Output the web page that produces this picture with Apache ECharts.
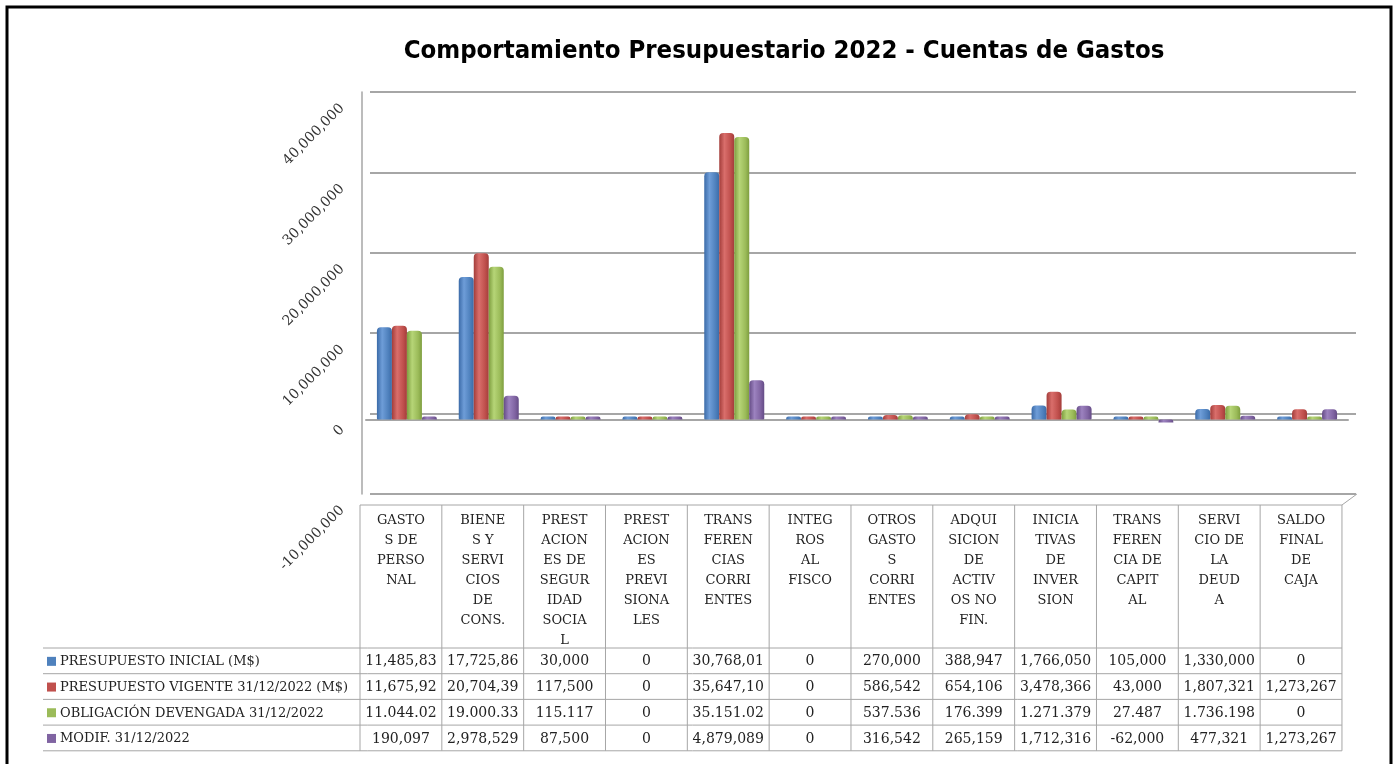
<!DOCTYPE html>
<html>
<head>
<meta charset="utf-8">
<title>Comportamiento Presupuestario 2022</title>
<script src="https://cdn.jsdelivr.net/npm/echarts@6/dist/echarts.min.js"></script>
<style>html,body{margin:0;padding:0;background:#fff}#main{width:1400px;height:764px}</style>
</head>
<body>
<div id="main"></div>
<script>
// categorias tal como aparecen (con los cortes de linea de la tabla)
var categorias = [
  'GASTO\nS DE\nPERSO\nNAL',
  'BIENE\nS Y\nSERVI\nCIOS\nDE\nCONS.',
  'PREST\nACION\nES DE\nSEGUR\nIDAD\nSOCIA\nL',
  'PREST\nACION\nES\nPREVI\nSIONA\nLES',
  'TRANS\nFEREN\nCIAS\nCORRI\nENTES',
  'INTEG\nROS\nAL\nFISCO',
  'OTROS\nGASTO\nS\nCORRI\nENTES',
  'ADQUI\nSICION\nDE\nACTIV\nOS NO\nFIN.',
  'INICIA\nTIVAS\nDE\nINVER\nSION',
  'TRANS\nFEREN\nCIA DE\nCAPIT\nAL',
  'SERVI\nCIO DE\nLA\nDEUD\nA',
  'SALDO\nFINAL\nDE\nCAJA'
];
var seriesNames = [
  'PRESUPUESTO INICIAL (M$)',
  'PRESUPUESTO VIGENTE 31/12/2022 (M$)',
  'OBLIGACIÓN DEVENGADA 31/12/2022',
  'MODIF. 31/12/2022'
];
var inicial  = [11485830, 17725860, 30000, 0, 30768010, 0, 270000, 388947, 1766050, 105000, 1330000, 0];
var vigente  = [11675920, 20704390, 117500, 0, 35647100, 0, 586542, 654106, 3478366, 43000, 1807321, 1273267];
var devengad = [11044020, 19000330, 115117, 0, 35151020, 0, 537536, 176399, 1271379, 27487, 1736198, 0];
var modif    = [190097, 2978529, 87500, 0, 4879089, 0, 316542, 265159, 1712316, -62000, 477321, 1273267];

// textos de la tabla de datos, tal como se muestran
var inicialTxt  = ['11,485,83','17,725,86','30,000','0','30,768,01','0','270,000','388,947','1,766,050','105,000','1,330,000','0'];
var vigenteTxt  = ['11,675,92','20,704,39','117,500','0','35,647,10','0','586,542','654,106','3,478,366','43,000','1,807,321','1,273,267'];
var devengTxt   = ['11.044.02','19.000.33','115.117','0','35.151.02','0','537.536','176.399','1.271.379','27.487','1.736.198','0'];
var modifTxt    = ['190,097','2,978,529','87,500','0','4,879,089','0','316,542','265,159','1,712,316','-62,000','477,321','1,273,267'];

var yMin = -10000000, yMax = 40000000, yStep = 10000000;

var colores = [
  ['#3B6BA8', '#6E9DD8', '#4F81BD'],
  ['#A33D3A', '#D96E6B', '#C0504D'],
  ['#7E9E3F', '#B6D577', '#9BBB59'],
  ['#654C86', '#9C82BF', '#8064A2']
];
var valores = [inicial, vigente, devengad, modif];
var textos = [inicialTxt, vigenteTxt, devengTxt, modifTxt];

function cilindro(c) {
  return new echarts.graphic.LinearGradient(0, 0, 1, 0, [
    {offset: 0, color: c[0]},
    {offset: 0.35, color: c[1]},
    {offset: 0.75, color: c[2]},
    {offset: 1, color: c[0]}
  ]);
}

// tabla de datos bajo el grafico
var serif = '"DejaVu Serif", "Liberation Serif", serif';
var tabX = 360, colW = 81.83, tabTop = 505, headBot = 648, rowH = 25.7, legX = 43;
var tabRight = tabX + colW * categorias.length;
var lineaGris = {stroke: '#A6A6A6', lineWidth: 1};
var graficos = [];
graficos.push({type: 'rect', shape: {x: 7, y: 7, width: 1384, height: 780}, style: {fill: null, stroke: '#000', lineWidth: 3}, silent: true});
graficos.push({type: 'line', shape: {x1: tabX, y1: tabTop, x2: tabRight, y2: tabTop}, style: lineaGris});
graficos.push({type: 'line', shape: {x1: tabRight, y1: tabTop, x2: tabRight + 15, y2: tabTop - 11}, style: lineaGris});
for (var c = 0; c <= categorias.length; c++) {
  var x = tabX + c * colW;
  graficos.push({type: 'line', shape: {x1: x, y1: tabTop, x2: x, y2: headBot + rowH * 4}, style: lineaGris});
}
for (var r = 0; r <= 4; r++) {
  var y = headBot + r * rowH;
  graficos.push({type: 'line', shape: {x1: legX, y1: y, x2: tabRight, y2: y}, style: lineaGris});
}
categorias.forEach(function (cat, i) {
  graficos.push({type: 'text', x: tabX + colW * (i + 0.5), y: 511,
    style: {text: cat, align: 'center', verticalAlign: 'top', font: '13px ' + serif, lineHeight: 20, fill: '#222'}});
});
seriesNames.forEach(function (n, s) {
  var yc = headBot + rowH * (s + 0.5) + 1;
  graficos.push({type: 'rect', shape: {x: 47, y: yc - 5, width: 9, height: 9}, style: {fill: colores[s][2]}});
  graficos.push({type: 'text', x: 60, y: yc,
    style: {text: n, align: 'left', verticalAlign: 'middle', font: '13px ' + serif, fill: '#222'}});
  textos[s].forEach(function (t, i) {
    graficos.push({type: 'text', x: tabX + colW * (i + 0.5), y: yc,
      style: {text: t, align: 'center', verticalAlign: 'middle', font: '14px ' + serif, fill: '#222'}});
  });
});

var chart = echarts.init(document.getElementById('main'));
var option = {
  backgroundColor: '#fff',
  animation: false,
  title: {
    text: 'Comportamiento Presupuestario 2022 - Cuentas de Gastos',
    left: 779, top: 33, textAlign: 'center',
    textStyle: {fontFamily: '"Liberation Sans Narrow", "DejaVu Sans Condensed", "Roboto Condensed", sans-serif', fontWeight: 'bold', fontSize: 25.5, color: '#000'}
  },
  grid: [
    {left: 370, right: 44, top: 92, bottom: 270},
    {left: 366, right: 52, top: 98, bottom: 264}
  ],
  xAxis: [
    {gridIndex: 0, type: 'category', data: categorias, show: false},
    {gridIndex: 1, type: 'category', data: categorias,
      axisLine: {show: true, onZero: true, lineStyle: {color: '#A6A6A6', width: 2}},
      axisTick: {show: false}, axisLabel: {show: false}}
  ],
  yAxis: [
    {gridIndex: 0, type: 'value', min: yMin, max: yMax, interval: yStep, offset: 8,
      axisLine: {show: true, lineStyle: {color: '#A6A6A6', width: 1.5}},
      axisTick: {show: false},
      splitLine: {lineStyle: {color: '#A6A6A6', width: 2}},
      axisLabel: {rotate: 45, margin: 34, align: 'right', verticalAlign: 'top', lineHeight: 40,
        fontFamily: serif, fontSize: 14, color: '#333',
        formatter: function (v) { return v.toLocaleString('en-US'); }}},
    {gridIndex: 1, type: 'value', min: yMin, max: yMax, interval: yStep, show: false, splitLine: {show: false}}
  ],
  series: seriesNames.map(function (n, s) {
    return {
      name: n, type: 'bar', xAxisIndex: 1, yAxisIndex: 1,
      data: valores[s], barWidth: 15, barGap: '0%', barMinHeight: 3,
      itemStyle: {color: cilindro(colores[s]), borderRadius: [4, 4, 1, 1]}
    };
  }),
  graphic: graficos
};
chart.setOption(option);
</script>
</body>
</html>
